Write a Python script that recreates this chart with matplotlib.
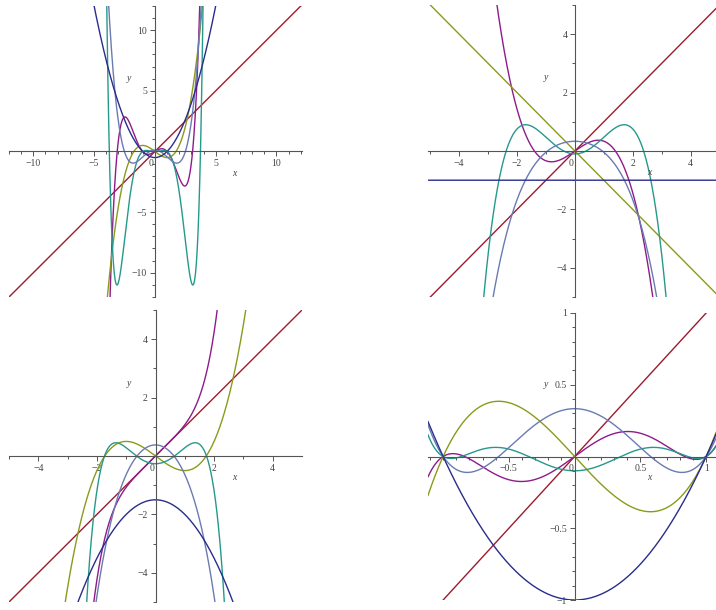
import numpy as np
import matplotlib.pyplot as plt

plt.rcParams['font.family'] = ['Liberation Serif', 'DejaVu Serif']

# polynomial coefficients (highest power first)
# panel 1: x, y in [-12, 12]
p1_red = [1, 0]
p1_purple = [0.0645, 0, -0.6843, 0, 0.6198, 0]
p1_olive = [0.25, 0, -0.75, 0]
p1_teal = [0.000407, 0, 0.019837, 0, -0.38535, 0, 0.36508, 0, 0]
p1_slate = [0.1033, 0, -0.6694, 0, 0.1244]
p1_blue = [0.5, 0, -0.5]

# panel 2: x, y in [-5, 5]
p2_red = [1, 0]
p2_purple = [-0.35, 0, 0.686, 0]
p2_olive = [-1, 0]
p2_teal = [-0.119, 0, 0.690, 0, -0.1]
p2_slate = [-1 / 24, 0, -1 / 3, 0, 1 / 3]
p2_blue = [-1]

# panel 3: x, y in [-5, 5]
p3_red = [1, 0]
p3_purple = [0.07, 0, 0, 0, 1, 0]
p3_olive = [0.25, 0, -0.75, 0]
p3_teal = [-0.034, 0, -0.08934, 0, 0.6702, 0, -0.2646]
p3_slate = [-0.094, 0, -0.92, 0, 0.38]
p3_blue = [-0.5, 0, -1.5]

# panel 4: x in [-1.1, 1.1], y in [-1, 1]
p4_red = [1, 0]
p4_purple = [0.96, 0, -1.632, 0, 0.672, 0]
p4_olive = [1, 0, -1, 0]
p4_teal = [1.1, 0, -2.0488, 0, 1.0485, 0, -0.0997]
p4_slate = [1, 0, -4 / 3, 0, 1 / 3]
p4_blue = [1, 0, -1]

colors = {'red': '#9c1c2e', 'purple': '#8e1b8c', 'olive': '#8c9a1c',
          'teal': '#25998c', 'slate': '#6a7bb2', 'blue': '#2a2d8c'}

panels = [
    dict(pos=(9, 6, 302, 297), xlim=(-12, 12.1), ylim=(-12, 12),
         xmaj=[-10, -5, 5, 10], ymaj=[-10, -5, 5, 10], xminor=1, yminor=1,
         curves=[('red', p1_red), ('purple', p1_purple), ('olive', p1_olive),
                 ('teal', p1_teal), ('slate', p1_slate), ('blue', p1_blue)]),
    dict(pos=(428, 5, 716, 297), xlim=(-5.08, 4.88), ylim=(-5, 5),
         xmaj=[-4, -2, 2, 4], ymaj=[-4, -2, 2, 4], xminor=1, yminor=1,
         curves=[('red', p2_red), ('purple', p2_purple), ('olive', p2_olive),
                 ('teal', p2_teal), ('slate', p2_slate), ('blue', p2_blue)]),
    dict(pos=(9, 310, 302, 602), xlim=(-5, 5), ylim=(-5, 5),
         xmaj=[-4, -2, 2, 4], ymaj=[-4, -2, 2, 4], xminor=1, yminor=1,
         curves=[('red', p3_red), ('purple', p3_purple), ('olive', p3_olive),
                 ('teal', p3_teal), ('slate', p3_slate), ('blue', p3_blue)]),
    dict(pos=(428, 313, 716, 600), xlim=(-1.115, 1.075), ylim=(-1, 1),
         xmaj=[-0.5, 0.5, 1], ymaj=[-1, -0.5, 0.5, 1], xminor=0.1, yminor=0.1,
         curves=[('red', p4_red), ('purple', p4_purple), ('olive', p4_olive),
                 ('teal', p4_teal), ('slate', p4_slate), ('blue', p4_blue)]),
]


def fmt(v):
    s = ('%g' % abs(v))
    return ('\u2212' + s) if v < 0 else s


W, H = 716, 610
fig = plt.figure(figsize=(W / 100, H / 100), dpi=100)

for p in panels:
    x0, y0, x1, y1 = p['pos']
    ax = fig.add_axes([x0 / W, 1 - y1 / H, (x1 - x0) / W, (y1 - y0) / H])
    ax.patch.set_alpha(0)
    xs = np.linspace(p['xlim'][0], p['xlim'][1], 2000)
    for name, coef in p['curves']:
        ax.plot(xs, np.polyval(coef, xs), color=colors[name], lw=1.0)
    ax.set_xlim(p['xlim'])
    ax.set_ylim(p['ylim'])
    for s in ['top', 'right']:
        ax.spines[s].set_visible(False)
    ax.spines['left'].set_position(('data', 0))
    ax.spines['bottom'].set_position(('data', 0))
    for s in ['left', 'bottom']:
        ax.spines[s].set_color('#555555')
        ax.spines[s].set_linewidth(0.8)
    ax.set_xticks(p['xmaj'])
    ax.set_xticklabels([fmt(v) for v in p['xmaj']])
    ax.set_yticks(p['ymaj'])
    ax.set_yticklabels([fmt(v) for v in p['ymaj']])
    xm = p['xminor']
    ax.set_xticks(np.arange(np.ceil(p['xlim'][0] / xm) * xm,
                            p['xlim'][1], xm), minor=True)
    ax.set_yticks(np.arange(p['ylim'][0], p['ylim'][1] + 1e-9, p['yminor']),
                  minor=True)
    ax.tick_params(which='both', direction='out', color='#555555', width=0.7,
                   labelsize=7, labelcolor='#444444', pad=2)
    ax.tick_params(which='major', length=3.5)
    ax.tick_params(which='minor', length=2)
    ax.annotate('0', xy=(0, 0), xycoords='data', xytext=(-1, -5.5),
                textcoords='offset points', fontsize=7, color='#444444',
                ha='right', va='top')
    ax.text(0.768, 0.426, 'x', transform=ax.transAxes, fontsize=7,
            style='italic', color='#444444', ha='center', va='center')
    ax.text(0.41, 0.75, 'y', transform=ax.transAxes, fontsize=7,
            style='italic', color='#444444', ha='center', va='center')

fig.savefig('out.png', dpi=100)
